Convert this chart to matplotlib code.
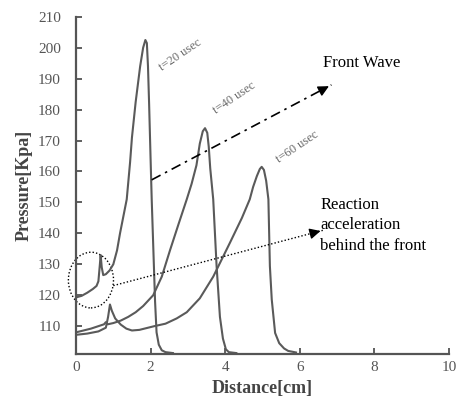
"""Curvas de pressao x distancia (t = 20, 40, 60 usec) com setas de anotacao."""
import matplotlib
matplotlib.use("Agg")
import matplotlib.pyplot as plt
from matplotlib.patches import Ellipse

# dados
x_t20 = [0.0, 0.15, 0.3, 0.45, 0.55, 0.6, 0.64, 0.66, 0.69, 0.73, 0.8, 0.9, 1.0,
         1.1, 1.18, 1.27, 1.36, 1.45, 1.5, 1.6, 1.72, 1.8, 1.86, 1.9, 1.93, 1.96,
         2.0, 2.03, 2.06, 2.09, 2.12, 2.16, 2.22, 2.3, 2.4, 2.6]
p_t20 = [119.3, 119.8, 120.8, 122.0, 123.0, 124.5, 130.0, 133.0, 129.0, 126.5,
         126.8, 128.0, 130.0, 134.5, 140.0, 145.5, 151.0, 163.0, 171.0, 182.5,
         194.0, 200.0, 202.5, 201.5, 194.0, 182.0, 164.0, 151.0, 140.0, 129.0,
         118.0, 108.0, 104.0, 102.2, 101.6, 101.3]

x_t40 = [0.0, 0.2, 0.4, 0.6, 0.75, 0.8, 0.85, 1.0, 1.2, 1.4, 1.6, 1.8, 2.07, 2.3,
         2.52, 2.75, 2.97, 3.1, 3.23, 3.32, 3.4, 3.46, 3.52, 3.56, 3.6, 3.68,
         3.77, 3.86, 3.94, 4.02, 4.1, 4.3]
p_t40 = [108.0, 108.6, 109.2, 110.0, 110.6, 111.3, 110.6, 111.0, 111.8, 113.0,
         114.5, 116.5, 120.0, 126.0, 134.5, 143.0, 151.0, 156.0, 162.0, 169.0,
         173.0, 174.0, 172.5, 168.0, 161.0, 151.0, 129.5, 113.0, 106.0, 102.5,
         101.6, 101.3]

x_t60 = [0.0, 0.3, 0.6, 0.8, 0.86, 0.91, 0.96, 1.05, 1.2, 1.35, 1.5, 1.7, 1.9,
         2.1, 2.4, 2.7, 2.97, 3.32, 3.68, 4.13, 4.45, 4.66, 4.75, 4.85, 4.93,
         4.98, 5.04, 5.1, 5.16, 5.2, 5.25, 5.34, 5.45, 5.58, 5.69, 5.9]
p_t60 = [107.2, 107.6, 108.3, 109.5, 113.0, 117.0, 115.0, 112.5, 110.5, 109.2,
         108.6, 108.8, 109.4, 110.0, 110.8, 112.5, 114.5, 119.0, 126.0, 137.0,
         145.0, 151.0, 155.0, 158.5, 160.8, 161.5, 160.5, 157.0, 151.0, 129.4,
         118.6, 107.8, 104.5, 102.8, 102.0, 101.5]

x_ticks = [0, 2, 4, 6, 8, 10]
y_ticks = [110, 120, 130, 140, 150, 160, 170, 180, 190, 200, 210]

COR_LINHA = "#5a5a5a"
COR_TICK = "#555555"
FONTE = ["Liberation Serif", "DejaVu Serif"]

plt.rcParams["font.family"] = FONTE

fig = plt.figure(figsize=(4.58, 4.0), dpi=100)
ax = fig.add_axes([0.166, 0.115, 0.814, 0.843])

ax.plot(x_t20, p_t20, color=COR_LINHA, lw=1.5)
ax.plot(x_t40, p_t40, color=COR_LINHA, lw=1.5)
ax.plot(x_t60, p_t60, color=COR_LINHA, lw=1.5)

ax.set_xlim(0, 10)
ax.set_ylim(101, 210)
ax.set_xticks(x_ticks)
ax.set_yticks(y_ticks)
ax.tick_params(direction="in", length=4, width=1.2, colors="#444444",
               labelcolor=COR_TICK, labelsize=11)
ax.tick_params(axis="y", pad=11)
ax.tick_params(axis="x", pad=5)
for lado in ("top", "right"):
    ax.spines[lado].set_visible(False)
for lado in ("left", "bottom"):
    ax.spines[lado].set_color("#555555")
    ax.spines[lado].set_linewidth(1.6)

ax.set_xlabel("Distance[cm]", fontsize=13, fontweight="bold", color="#444444",
              labelpad=4)
ax.set_ylabel("Pressure[Kpa]", fontsize=13, fontweight="bold", color="#444444",
              labelpad=4)

# rotulos das curvas
for txt, xy in (("t=20 usec", (2.8, 197.5)), ("t=40 usec", (4.26, 183.8)),
                ("t=60 usec", (5.95, 168.0))):
    ax.text(xy[0], xy[1], txt, rotation=34, fontsize=9, color="#6a6a6a",
            ha="center", va="center")

# seta frente de onda (traco-ponto)
fw_ini, fw_fim = (2.03, 157.3), (6.85, 188.0)
ax.plot([fw_ini[0], fw_fim[0]], [fw_ini[1], fw_fim[1]], color="k", lw=1.2,
        ls=(0, (6, 3, 1.5, 3)))
ax.annotate("", xy=fw_fim, xytext=(6.6, 186.4),
            arrowprops=dict(arrowstyle="-|>", color="k", lw=1,
                            mutation_scale=16))
ax.text(6.62, 195.0, "Front Wave", fontsize=12, ha="left", va="center")

# elipse e seta pontilhada
elipse = Ellipse((0.4, 124.9), 1.21, 18.0, fill=False, ls=(0, (1, 1.5)),
                 lw=1.0, color="k", clip_on=False)
ax.add_patch(elipse)
ra_ini, ra_fim = (1.0, 123.1), (6.63, 141.0)
ax.plot([ra_ini[0], ra_fim[0]], [ra_ini[1], ra_fim[1]], color="k", lw=1.0,
        ls=(0, (1, 1.5)))
ax.annotate("", xy=ra_fim, xytext=(6.38, 140.2),
            arrowprops=dict(arrowstyle="-|>", color="k", lw=1,
                            mutation_scale=16))
ax.text(6.55, 142.6, "Reaction\nacceleration\nbehind the front", fontsize=12,
        ha="left", va="center", linespacing=1.4)

fig.savefig("out.png", dpi=100)
